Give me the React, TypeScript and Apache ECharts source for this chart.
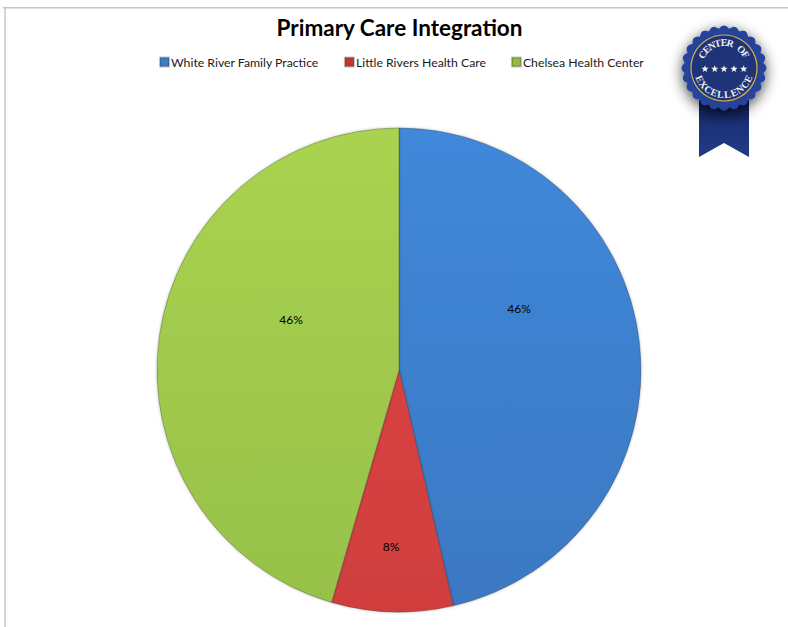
import React, { useEffect, useRef } from "react";
import * as echarts from "echarts";

const titleText = "Primary Care Integration";
const categories = ["White River Family Practice", "Little Rivers Health Care", "Chelsea Health Center"];
const values = [46.4, 8.1, 45.5];
const labelSpots = [
  [519, 308],
  [391, 546],
  [291, 319],
];
const topStops = ["#4088da", "#e04545", "#a9d34f"];
const bottomStops = ["#3b78c2", "#d03e3e", "#97c04a"];
const legendColors = ["#3b7cc4", "#c0393a", "#93b93f"];
const badgeTop = "CENTER OF";
const badgeBottom = "EXCELLENCE";

const BX = 724;
const BY = 68;
const FONT = "Lato, Carlito, 'Open Sans', sans-serif";

function scallop(n: number, r: number, a: number) {
  const pts: number[][] = [];
  const total = n * 8;
  for (let i = 0; i < total; i++) {
    const t = (i / total) * Math.PI * 2;
    const rr = r + a * Math.abs(Math.cos((t * n) / 2));
    pts.push([BX + rr * Math.cos(t), BY + rr * Math.sin(t)]);
  }
  return pts;
}

function star(cx: number, cy: number, r: number) {
  const pts: number[][] = [];
  for (let i = 0; i < 10; i++) {
    const rr = i % 2 === 0 ? r : r * 0.42;
    const t = -Math.PI / 2 + (i * Math.PI) / 5;
    pts.push([cx + rr * Math.cos(t), cy + rr * Math.sin(t)]);
  }
  return pts;
}

function arcText(text: string, radius: number, spanDeg: number, top: boolean) {
  const n = text.length;
  return text.split("").map((ch, i) => {
    const deg = -spanDeg / 2 + (i * spanDeg) / (n - 1);
    const rad = (deg * Math.PI) / 180;
    const x = BX + radius * Math.sin(rad);
    const y = top ? BY - radius * Math.cos(rad) : BY + radius * Math.cos(rad);
    return {
      type: "text" as const,
      x,
      y,
      rotation: top ? -rad : rad,
      z: 20,
      style: {
        text: ch,
        fill: "#eef0f6",
        font: "bold 10px 'Liberation Serif', serif",
        align: "center" as const,
        verticalAlign: "middle" as const,
      },
    };
  });
}

export default function App() {
  const ref = useRef<HTMLDivElement>(null);
  useEffect(() => {
    const chart = echarts.init(ref.current!, undefined, { renderer: "svg" });
    const fillFor = (i: number) =>
      new echarts.graphic.LinearGradient(
        0,
        128,
        0,
        612,
        [
          { offset: 0, color: topStops[i] },
          { offset: 1, color: bottomStops[i] },
        ],
        true
      );
    chart.setOption({
      animation: false,
      backgroundColor: "#ffffff",
      title: {
        text: titleText,
        left: 394.5,
        textAlign: "center",
        top: 11,
        textStyle: { fontFamily: FONT, fontSize: 22.5, fontWeight: "bold", color: "#000000" },
      },
      legend: {
        left: 154,
        top: 51,
        itemWidth: 9,
        itemHeight: 9,
        itemGap: 25,
        icon: "rect",
        data: categories.map((name, i) => ({ name, itemStyle: { color: legendColors[i] } })),
        textStyle: { fontFamily: FONT, fontSize: 12.25, color: "#1a1a1a", padding: [0, 0, 0, -3] },
      },
      series: [
        {
          type: "pie",
          center: [399, 370],
          radius: 242,
          startAngle: 90,
          clockwise: true,
          silent: true,
          avoidLabelOverlap: false,
          labelLine: { show: false },
          percentPrecision: 0,
          label: {
            show: true,
            position: "inside",
            formatter: "{d}%",
            fontFamily: FONT,
            fontSize: 12,
            color: "#000000",
          },
          labelLayout: (p: any) => ({
            x: labelSpots[p.dataIndex][0],
            y: labelSpots[p.dataIndex][1],
            align: "center",
            verticalAlign: "middle",
          }),
          itemStyle: {
            borderColor: "rgba(50,50,50,0.3)",
            borderWidth: 1,
            shadowBlur: 3,
            shadowColor: "rgba(0,0,0,0.25)",
          },
          data: categories.map((name, i) => ({
            name,
            value: values[i],
            itemStyle: { color: fillFor(i) },
          })),
        },
      ],
      graphic: [
        { type: "rect", shape: { x: 3, y: 7, width: 785, height: 1.5 }, style: { fill: "#c4c4c4" }, z: 1 },
        { type: "rect", shape: { x: 4.3, y: 7, width: 1.5, height: 620 }, style: { fill: "#c8c8c8" }, z: 1 },
        {
          type: "polygon",
          z: 10,
          shape: { points: [[699, 100], [749, 100], [749, 157], [724, 143], [699, 157]] },
          style: {
            fill: new echarts.graphic.LinearGradient(0, 0, 0, 1, [
              { offset: 0, color: "#0d1b4c" },
              { offset: 0.45, color: "#1b3278" },
              { offset: 1, color: "#1f3a87" },
            ]),
          },
        },
        {
          type: "polygon",
          z: 12,
          shape: { points: scallop(24, 39.5, 3) },
          style: { fill: "#27439a", shadowBlur: 14, shadowColor: "rgba(0,0,0,0.7)", shadowOffsetY: 4 },
        },
        {
          type: "circle",
          z: 13,
          shape: { cx: BX, cy: BY, r: 33 },
          style: { fill: "#1f3478", stroke: "#d8b13c", lineWidth: 1.2 },
        },
        ...[705, 714.7, 724, 734, 743.7].map((x) => ({
          type: "polygon",
          z: 20,
          shape: { points: star(x, 69, 3.8) },
          style: { fill: "#f4f5f9" },
        })),
        ...arcText(badgeTop, 25.5, 116, true),
        ...arcText(badgeBottom, 26.5, 132, false),
      ],
    });
    return () => chart.dispose();
  }, []);
  return (
    <div
      ref={ref}
      style={{ position: "fixed", left: 0, top: 0, width: 788, height: 627, background: "#fff" }}
    />
  );
}
